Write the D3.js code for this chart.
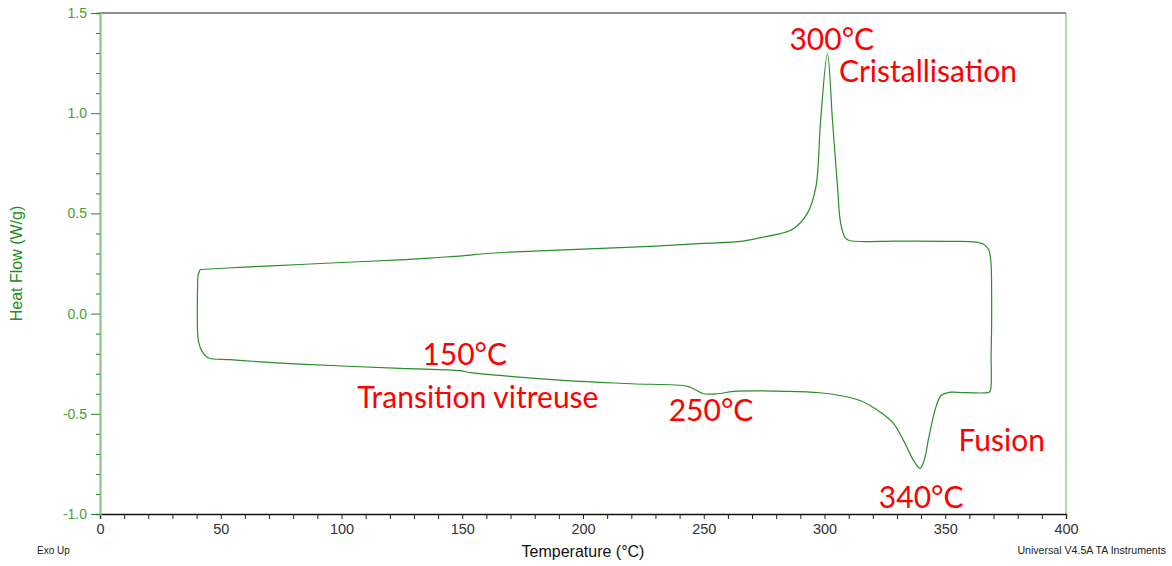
<!DOCTYPE html>
<html>
<head>
<meta charset="utf-8">
<script src="https://cdn.jsdelivr.net/npm/d3@7"></script>
<style>
  body { margin: 0; background: #fff; }
  svg { display: block; }
</style>
</head>
<body>
<div id="chart"></div>
<script>
// loop, top branch left->right then bottom branch right->left
const temp = [41.5, 60, 83, 100, 124, 140, 150, 160, 170, 200, 230, 250, 265, 274, 282, 287.3, 292.9, 296.4, 298.4, 301.2,
  303.3, 305.4, 306.7, 308.5, 310.2, 330, 350, 362, 366, 368, 368.9, 369.2, 369.2, 369, 368.7,
  368, 355, 351.5, 348.2, 346.1, 343.2, 341.2, 339.5, 337, 332.8, 328.7, 323.3, 319, 315, 307, 298, 285, 262.4, 255.8, 250,
  246.5, 243.3, 220, 199, 175, 153.4, 149.2, 124.4, 83, 54, 44.7, 42.3, 40.8, 40.4, 40.3, 40.4, 40.6, 41.5];
const heatFlow = [0.22, 0.232, 0.245, 0.255, 0.268, 0.28, 0.288, 0.3, 0.307, 0.322, 0.337, 0.35, 0.36, 0.38, 0.4, 0.425, 0.5, 0.63, 0.965, 1.298,
  0.965, 0.63, 0.45, 0.38, 0.365, 0.362, 0.36, 0.358, 0.345, 0.32, 0.26, 0.1, -0.05, -0.2, -0.385,
  -0.393, -0.393, -0.393, -0.41, -0.468, -0.618, -0.735, -0.772, -0.735, -0.635, -0.55, -0.493, -0.46, -0.435, -0.41, -0.395, -0.388, -0.388, -0.4, -0.4,
  -0.38, -0.363, -0.35, -0.338, -0.318, -0.295, -0.285, -0.273, -0.252, -0.23, -0.22, -0.19, -0.14, -0.09, 0.0, 0.13, 0.19, 0.22];

const xTicks = [0, 50, 100, 150, 200, 250, 300, 350, 400];
const yTicks = [-1.0, -0.5, 0.0, 0.5, 1.0, 1.5];

// annotations: text, temperature, heat flow (anchor = start of text baseline)
const noteText = ["300°C", "Cristallisation", "150°C", "Transition vitreuse", "250°C", "Fusion", "340°C"];
const noteT = [285.5, 306, 133.5, 106.5, 235.5, 355.5, 322.5];
const noteV = [1.315, 1.155, -0.255, -0.47, -0.535, -0.685, -0.97];

const svgWidth = 1172;
const svgHeight = 566;
const margin = { top: 13, right: 106, bottom: 52, left: 100 };
const width = svgWidth - margin.left - margin.right;
const height = svgHeight - margin.top - margin.bottom;

const svg = d3.select("#chart")
  .append("svg")
  .attr("width", svgWidth)
  .attr("height", svgHeight)
  .style("font-family", "'Liberation Sans', Arial, sans-serif");

const g = svg.append("g")
  .attr("transform", `translate(${margin.left},${margin.top})`);

const xScale = d3.scaleLinear().domain([0, 400]).range([0, width]);
const yScale = d3.scaleLinear().domain([-1.0, 1.5]).range([height, 0]);

// frame: top black, right green
g.append("line").attr("x1", 0).attr("x2", width).attr("y1", 0).attr("y2", 0)
  .attr("stroke", "#222").attr("stroke-width", 1);
g.append("line").attr("x1", width).attr("x2", width).attr("y1", 0).attr("y2", height)
  .attr("stroke", "#5cb85c").attr("stroke-width", 1);

// bottom axis with minor ticks
const xAxis = g.append("g")
  .attr("transform", `translate(0,${height})`)
  .call(d3.axisBottom(xScale).ticks(32).tickSize(5).tickFormat(d => xTicks.includes(d) ? d : ""));
xAxis.select(".domain").attr("stroke", "#111").attr("stroke-width", 1.3);
xAxis.selectAll(".tick line").attr("stroke", "#222");
xAxis.selectAll(".tick text")
  .attr("fill", "#333")
  .attr("font-size", 14.5)
  .attr("dy", "0.8em");

// left axis, green
const yAxis = g.append("g")
  .call(d3.axisLeft(yScale).ticks(20).tickSize(4).tickFormat(d => ""));
yAxis.select(".domain").attr("stroke", "#7fc37f").attr("stroke-width", 2);
yAxis.selectAll(".tick line").attr("stroke", "#228b22");
yAxis.selectAll(".tick")
  .filter(d => yTicks.some(t => Math.abs(t - d) < 1e-9))
  .select("line").attr("x2", -9);
g.selectAll(".ylab")
  .data(yTicks)
  .enter()
  .append("text")
  .attr("class", "ylab")
  .attr("x", -13)
  .attr("y", d => yScale(d))
  .attr("dy", "0.35em")
  .attr("text-anchor", "end")
  .attr("font-size", 14)
  .attr("fill", "#4a9e3a")
  .text(d => d.toFixed(1));

// the DSC loop
const line = d3.line()
  .x(d => xScale(d[0]))
  .y(d => yScale(d[1]))
  .curve(d3.curveCatmullRom.alpha(0.5));

g.append("path")
  .datum(temp.map((t, i) => [t, heatFlow[i]]))
  .attr("d", line)
  .attr("fill", "none")
  .attr("stroke", "#2a8f2a")
  .attr("stroke-width", 1.2);

// red notes
g.selectAll(".note")
  .data(noteText)
  .enter()
  .append("text")
  .attr("class", "note")
  .attr("x", (d, i) => xScale(noteT[i]))
  .attr("y", (d, i) => yScale(noteV[i]))
  .attr("font-family", "Lato, 'Open Sans', sans-serif")
  .attr("font-size", 30)
  .attr("fill", "#ff0000")
  .text(d => d);

// titles
svg.append("text")
  .attr("x", margin.left + width / 2)
  .attr("y", 557)
  .attr("text-anchor", "middle")
  .attr("font-size", 16)
  .attr("fill", "#111")
  .text("Temperature (°C)");

svg.append("text")
  .attr("transform", `translate(22,${margin.top + yScale(0.25)}) rotate(-90)`)
  .attr("text-anchor", "middle")
  .attr("font-size", 16)
  .attr("fill", "#228b22")
  .text("Heat Flow (W/g)");

svg.append("text")
  .attr("x", 37).attr("y", 554)
  .attr("font-size", 10)
  .attr("fill", "#222")
  .text("Exo Up");

svg.append("text")
  .attr("x", 1166).attr("y", 554)
  .attr("text-anchor", "end")
  .attr("font-size", 10.6)
  .attr("fill", "#222")
  .text("Universal V4.5A TA Instruments");
</script>
</body>
</html>
